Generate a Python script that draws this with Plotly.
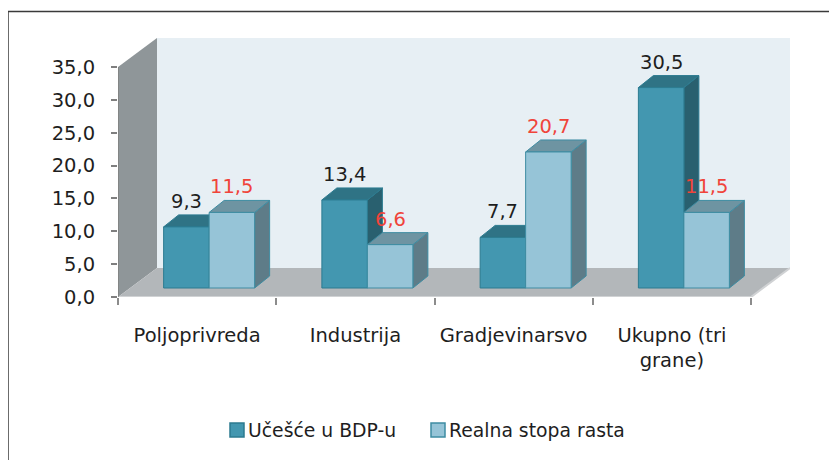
import plotly.graph_objects as go

# ---------------- data ----------------
CATEGORIES = ["Poljoprivreda", "Industrija", "Gradjevinarsvo", "Ukupno (tri<br>grane)"]
SERIES_NAMES = ["Učešće u BDP-u", "Realna stopa rasta"]
UCESCE = [9.3, 13.4, 7.7, 30.5]
STOPA = [11.5, 6.6, 20.7, 11.5]
Y_TICKS = [0, 5, 10, 15, 20, 25, 30, 35]
Y_TICK_LABELS = ["0,0", "5,0", "10,0", "15,0", "20,0", "25,0", "30,0", "35,0"]

# ---------------- styling / geometry (pixels, in page coordinates) ----------------
W, H = 837, 460
PAGE_OFF = 8                     # default body margin of the html page
FRONT_LEFT, FRONT_RIGHT = 118, 751
FRONT_BOTTOM, FRONT_TOP = 297, 67
DEPTH_X, DEPTH_Y = 39, 29        # back wall offset
BAR_SHIFT_X, BAR_SHIFT_Y = 12, 9 # bar plane offset from front plane
BAR_DX, BAR_DY = 15, 12          # bar depth
BAR_W_PX = 45.5

FONT = "DejaVu Sans"
FS = 19.5
FS_LEG = 18.8
C_DARK, C_DARK_TOP, C_DARK_SIDE, C_DARK_EDGE = "#4397B0", "#2F7385", "#29606F", "#2C7B90"
C_LIGHT, C_LIGHT_TOP, C_LIGHT_SIDE, C_LIGHT_EDGE = "#96C4D7", "#6E94A2", "#5E7C88", "#3E8CA2"
C_WALL, C_FLOOR, C_LEFT = "#E7EFF4", "#B3B7BA", "#8F9699"
C_RED = "#F0443A"
C_TEXT = "#1E1E1E"

n = len(CATEGORIES)
ymax_tick = Y_TICKS[-1]
ppc = (FRONT_RIGHT - FRONT_LEFT) / n                  # px per category
ppu = (FRONT_BOTTOM - FRONT_TOP) / ymax_tick          # px per value unit

plot_l, plot_r = FRONT_LEFT, FRONT_RIGHT + DEPTH_X
plot_b, plot_t = FRONT_BOTTOM, FRONT_TOP - DEPTH_Y

fig_w, fig_h = W - PAGE_OFF, H - PAGE_OFF

x_rng = [-0.5, n - 0.5 + DEPTH_X / ppc]
y_rng = [0, ymax_tick + DEPTH_Y / ppu]
sx, sy = BAR_SHIFT_X / ppc, BAR_SHIFT_Y / ppu
x2_rng = [x_rng[0] - sx, x_rng[1] - sx]
y2_rng = [y_rng[0] - sy, y_rng[1] - sy]

dxu, dyu = DEPTH_X / ppc, DEPTH_Y / ppu
bdx, bdy = BAR_DX / ppc, BAR_DY / ppu
bw = BAR_W_PX / ppc


def px(p):
    return (p - plot_l) / (plot_r - plot_l)


def py(p):
    return (plot_b - p) / (plot_b - plot_t)


def poly(pts):
    return "M " + " L ".join(f"{a},{b}" for a, b in pts) + " Z"


shapes = []
# left wall
shapes.append(dict(type="path", xref="x", yref="y", layer="below", line=dict(width=0),
                   fillcolor=C_LEFT,
                   path=poly([(-0.5, 0), (-0.5, ymax_tick), (-0.5 + dxu, ymax_tick + dyu), (-0.5 + dxu, dyu)])))
# back wall
shapes.append(dict(type="path", xref="x", yref="y", layer="below", line=dict(width=0),
                   fillcolor=C_WALL,
                   path=poly([(-0.5 + dxu, dyu), (-0.5 + dxu, ymax_tick + dyu),
                              (n - 0.5 + dxu, ymax_tick + dyu), (n - 0.5 + dxu, dyu)])))
# floor
shapes.append(dict(type="path", xref="x", yref="y", layer="below", line=dict(width=0),
                   fillcolor=C_FLOOR,
                   path=poly([(-0.5, 0), (n - 0.5, 0), (n - 0.5 + dxu, dyu), (-0.5 + dxu, dyu)])))
# floor front/right edge
shapes.append(dict(type="path", xref="x", yref="y", layer="below",
                   line=dict(width=2, color="#D0D2D4"),
                   path=f"M -0.5,0 L {n-0.5},0 L {n-0.5+dxu},{dyu}"))
# y axis line
shapes.append(dict(type="line", xref="x", yref="y", layer="below",
                   x0=-0.5, x1=-0.5, y0=0, y1=ymax_tick, line=dict(color="#7F7F7F", width=1.5)))


def bar_faces(xc, v, top, side, edge):
    xl, xr = xc - bw / 2, xc + bw / 2
    out = []
    out.append(dict(type="path", xref="x2", yref="y2", layer="below",
                    line=dict(width=1, color=edge), fillcolor=side,
                    path=poly([(xr, 0), (xr + bdx, bdy), (xr + bdx, v + bdy), (xr, v)])))
    out.append(dict(type="path", xref="x2", yref="y2", layer="below",
                    line=dict(width=1, color=edge), fillcolor=top,
                    path=poly([(xl, v), (xr, v), (xr + bdx, v + bdy), (xl + bdx, v + bdy)])))
    return out


dark_x = [i - bw / 2 for i in range(n)]
light_x = [i + bw / 2 for i in range(n)]
for xc, v in zip(dark_x, UCESCE):
    shapes += bar_faces(xc, v, C_DARK_TOP, C_DARK_SIDE, C_DARK_EDGE)
for xc, v in zip(light_x, STOPA):
    shapes += bar_faces(xc, v, C_LIGHT_TOP, C_LIGHT_SIDE, C_LIGHT_EDGE)

# outer frame (left and top edges visible)
shapes.append(dict(type="line", xref="paper", yref="paper", x0=px(8), x1=px(850), y0=py(11.5), y1=py(11.5),
                   line=dict(color="#3A3A3A", width=1.5)))
shapes.append(dict(type="line", xref="paper", yref="paper", x0=px(8), x1=px(8), y0=py(11.5), y1=py(470),
                   line=dict(color="#3A3A3A", width=1.5)))

# manual legend
LEG_Y = 430
leg_items = [(230, C_DARK, C_DARK_EDGE, SERIES_NAMES[0]), (431, C_LIGHT, C_LIGHT_EDGE, SERIES_NAMES[1])]
annotations = []
for lx, fc, ec, name in leg_items:
    shapes.append(dict(type="rect", xref="paper", yref="paper",
                       x0=px(lx), x1=px(lx + 14), y0=py(LEG_Y - 7), y1=py(LEG_Y + 7),
                       fillcolor=fc, line=dict(color=ec, width=1.5)))
    annotations.append(dict(xref="paper", yref="paper", x=px(lx + 16), y=py(LEG_Y),
                            xanchor="left", yanchor="middle", text=name, showarrow=False,
                            font=dict(family=FONT, size=FS_LEG, color=C_TEXT)))

# data labels
def fmt(v):
    return f"{v:.1f}".replace(".", ",")

for xc, v in zip(dark_x, UCESCE):
    annotations.append(dict(xref="x2", yref="y2", x=xc, y=v + bdy, xanchor="center", yanchor="bottom",
                            text=fmt(v), showarrow=False, font=dict(family=FONT, size=FS, color=C_TEXT)))
for xc, v in zip(light_x, STOPA):
    annotations.append(dict(xref="x2", yref="y2", x=xc, y=v + bdy, xanchor="center", yanchor="bottom",
                            text=fmt(v), showarrow=False, font=dict(family=FONT, size=FS, color=C_RED)))

fig = go.Figure()
fig.add_trace(go.Bar(x=dark_x, y=UCESCE, width=bw, name=SERIES_NAMES[0], xaxis="x2", yaxis="y2",
                     marker=dict(color=C_DARK, line=dict(color=C_DARK_EDGE, width=1)), showlegend=False,
                     hoverinfo="y+name"))
fig.add_trace(go.Bar(x=light_x, y=STOPA, width=bw, name=SERIES_NAMES[1], xaxis="x2", yaxis="y2",
                     marker=dict(color=C_LIGHT, line=dict(color=C_LIGHT_EDGE, width=1)), showlegend=False,
                     hoverinfo="y+name"))

fig.update_layout(
    width=fig_w, height=fig_h,
    margin=dict(l=plot_l - PAGE_OFF, r=fig_w - (plot_r - PAGE_OFF), t=plot_t - PAGE_OFF,
                b=fig_h - (plot_b - PAGE_OFF), pad=0),
    paper_bgcolor="white", plot_bgcolor="rgba(0,0,0,0)",
    barmode="overlay",
    showlegend=False,
    font=dict(family=FONT, size=FS, color=C_TEXT),
    xaxis=dict(range=x_rng, tickmode="array", tickvals=list(range(n)), ticktext=CATEGORIES,
               ticks="", showgrid=False, zeroline=False, showline=False, ticklabelstandoff=24,
               tickfont=dict(family=FONT, size=FS, color=C_TEXT),
               minor=dict(tickmode="array", tickvals=[i - 0.5 for i in range(n + 1)], ticks="outside",
                          ticklen=7, tickwidth=1.5, tickcolor="#8C8C8C", showgrid=False)),
    yaxis=dict(range=y_rng, tickmode="array", tickvals=Y_TICKS, ticktext=Y_TICK_LABELS,
               ticks="outside", ticklen=6, tickwidth=1.5, tickcolor="#7F7F7F", showgrid=False,
               zeroline=False, showline=False, ticklabelstandoff=12,
               tickfont=dict(family=FONT, size=FS, color=C_TEXT)),
    xaxis2=dict(range=x2_rng, overlaying="x", anchor="y2", visible=False),
    yaxis2=dict(range=y2_rng, overlaying="y", anchor="x2", visible=False),
    shapes=shapes,
    annotations=annotations,
)

fig.write_html("out.html")
